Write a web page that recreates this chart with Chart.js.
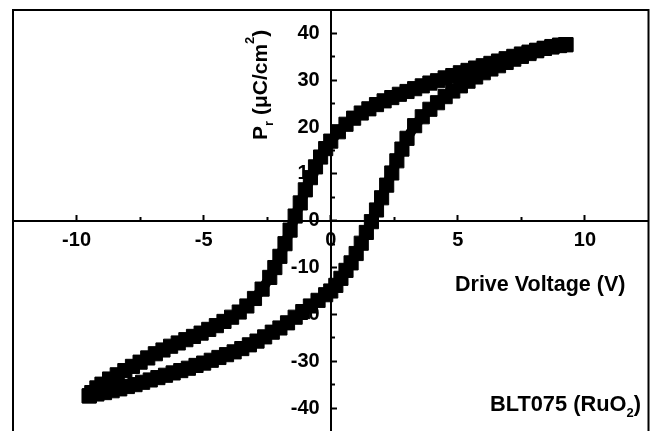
<!DOCTYPE html>
<html>
<head>
<meta charset="utf-8">
<script src="https://cdn.jsdelivr.net/npm/chart.js@4.4.1/dist/chart.umd.min.js"></script>
<style>
  html, body { margin: 0; padding: 0; background: #fff; }
</style>
</head>
<body>
<canvas id="loop" width="652" height="431"></canvas>
<script>
// P-E loop: drive voltage sweep down (+V -> -V) and back up (-V -> +V)
const descV = [9.25, 9.0, 8.7, 8.4, 8.1, 7.8, 7.5, 7.2, 6.9, 6.6, 6.3, 6.0, 5.7, 5.4, 5.1, 4.8, 4.5, 4.2, 3.9, 3.6,
  3.3, 3.0, 2.7, 2.4, 2.1, 1.8, 1.5, 1.2, 0.9, 0.6, 0.3, 0.0, -0.2, -0.4, -0.6, -0.8, -1.0, -1.2, -1.4, -1.6,
  -1.8, -2.0, -2.2, -2.4, -2.7, -3.0, -3.3, -3.6, -3.9, -4.2, -4.5, -4.8, -5.1, -5.4, -5.7, -6.0, -6.3, -6.6,
  -6.9, -7.2, -7.5, -7.8, -8.1, -8.4, -8.7, -9.0, -9.2, -9.4, -9.5];
const descP = [37.6, 37.4, 37.1, 36.8, 36.4, 36.0, 35.6, 35.1, 34.6, 34.1, 33.6, 33.1, 32.6, 32.1, 31.6, 31.0, 30.5, 29.9, 29.4, 28.8,
  28.2, 27.6, 27.0, 26.3, 25.6, 24.8, 23.9, 23.0, 21.9, 20.6, 19.0, 17.0, 15.4, 13.6, 11.5, 9.2, 6.6, 3.8, 1.0, -2.0,
  -4.9, -7.6, -10.0, -12.1, -14.6, -16.6, -18.2, -19.5, -20.6, -21.5, -22.4, -23.2, -24.0, -24.7, -25.4, -26.1, -26.8, -27.6,
  -28.4, -29.3, -30.2, -31.1, -32.0, -32.9, -33.8, -34.9, -35.7, -36.7, -37.4];

const ascV = [-9.5, -9.2, -8.9, -8.6, -8.3, -8.0, -7.7, -7.4, -7.1, -6.8, -6.5, -6.2, -5.9, -5.6, -5.3, -5.0, -4.7, -4.4,
  -4.1, -3.8, -3.5, -3.2, -2.9, -2.6, -2.3, -2.0, -1.7, -1.4, -1.1, -0.8, -0.5, -0.2, 0.0, 0.2, 0.4, 0.6, 0.8, 1.0,
  1.2, 1.4, 1.6, 1.8, 2.0, 2.2, 2.4, 2.6, 2.8, 3.0, 3.3, 3.6, 3.9, 4.2, 4.5, 4.8, 5.1, 5.4, 5.7, 6.0, 6.3, 6.6,
  6.9, 7.2, 7.5, 7.8, 8.1, 8.4, 8.7, 9.0, 9.25];
const ascP = [-37.4, -37.0, -36.7, -36.3, -35.9, -35.4, -35.0, -34.5, -34.0, -33.5, -33.0, -32.5, -32.0, -31.5, -30.9, -30.4, -29.8, -29.2,
  -28.6, -28.0, -27.3, -26.5, -25.7, -24.8, -23.8, -22.9, -21.8, -20.6, -19.4, -18.2, -17.0, -15.8, -15.0, -13.8, -12.3, -10.6, -9.0, -7.0,
  -4.8, -2.5, -0.2, 2.3, 4.9, 7.6, 10.2, 12.8, 15.3, 17.6, 20.3, 22.2, 23.8, 25.2, 26.5, 27.7, 28.8, 29.8, 30.7, 31.6, 32.4, 33.1,
  33.8, 34.5, 35.1, 35.7, 36.3, 36.8, 37.2, 37.5, 37.6];

const xMajor = [-10, -5, 0, 5, 10];
const xMinor = [-7.5, -2.5, 2.5, 7.5];
const yMajor = [-40, -30, -20, -10, 0, 10, 20, 30, 40];
const yMinor = [-35, -25, -15, -5, 5, 15, 25, 35];

const xTitle = 'Drive Voltage (V)';
const yTitle = [['P'], ['r', 'sub'], [' (\u03bcC/cm'], ['2', 'sup'], [')']];
const sampleName = [['BLT075 (RuO'], ['2', 'sub'], [')']];

const FONT = '"Liberation Sans", Arial, Helvetica, sans-serif';

// keep centre axes from taking any room in the layout
function noRoom(scale) {
  if (scale.isHorizontal()) scale.height = 0; else scale.width = 0;
  scale.paddingTop = scale.paddingBottom = scale.paddingLeft = scale.paddingRight = 0;
}
function setTicks(list) {
  return scale => { scale.ticks = list.map(v => ({ value: v })); };
}

// text with sub/superscripts, drawn left to right from (x, y) baseline
function drawRuns(ctx, x, y, runs, size) {
  runs.forEach(([t, kind]) => {
    let dy = 0;
    if (kind === 'sub') { ctx.font = 'bold 13px ' + FONT; dy = 6; }
    else if (kind === 'sup') { ctx.font = 'bold 13px ' + FONT; dy = -13; }
    else ctx.font = 'bold ' + size + 'px ' + FONT;
    ctx.fillText(t, x, y + dy);
    x += ctx.measureText(t).width;
  });
}

const annotations = {
  id: 'annotations',
  afterDraw(chart) {
    const { ctx, chartArea: a } = chart;
    ctx.save();
    // frame on three sides
    ctx.strokeStyle = '#000';
    ctx.lineWidth = 2;
    ctx.beginPath();
    ctx.moveTo(a.left, chart.height);
    ctx.lineTo(a.left, a.top);
    ctx.lineTo(a.right, a.top);
    ctx.lineTo(a.right, chart.height);
    ctx.stroke();

    ctx.fillStyle = '#000';
    ctx.textBaseline = 'alphabetic';
    ctx.textAlign = 'left';
    ctx.font = 'bold 21.5px ' + FONT;
    ctx.fillText(xTitle, 455, 291);
    drawRuns(ctx, 490, 411, sampleName, 21.8);

    ctx.translate(267, 140);
    ctx.rotate(-Math.PI / 2);
    drawRuns(ctx, 0, 0, yTitle, 21);
    ctx.restore();
  }
};

const tickFont = { family: FONT, size: 20, weight: 'bold' };

const series = (vs, ps) => ({
  data: vs.map((v, i) => ({ x: v, y: ps[i] })),
  showLine: true,
  borderColor: '#000',
  borderWidth: 10,
  pointStyle: 'rect',
  pointRadius: 10,
  pointBackgroundColor: '#000',
  pointBorderColor: '#000',
  pointBorderWidth: 1,
  tension: 0
});

new Chart(document.getElementById('loop').getContext('2d'), {
  type: 'scatter',
  data: { datasets: [series(descV, descP), series(ascV, ascP)] },
  options: {
    responsive: false,
    animation: false,
    events: [],
    layout: { autoPadding: false, padding: { left: 13, top: 10, right: 3.5, bottom: 0 } },
    plugins: { legend: { display: false }, tooltip: { enabled: false } },
    scales: {
      x: {
        type: 'linear', axis: 'x', min: -12.5, max: 12.5, position: { y: 0 },
        afterBuildTicks: setTicks(xMajor), afterFit: noRoom,
        grid: { drawOnChartArea: false, drawTicks: true, tickLength: -7, tickWidth: 2, tickColor: '#000' },
        border: { display: true, color: '#000', width: 2 },
        ticks: { font: tickFont, color: '#000', padding: 15, maxRotation: 0, autoSkip: false }
      },
      xMinor: {
        type: 'linear', axis: 'x', min: -12.5, max: 12.5, position: { y: 0 },
        afterBuildTicks: setTicks(xMinor), afterFit: noRoom,
        grid: { drawOnChartArea: false, drawTicks: true, tickLength: -4, tickWidth: 2, tickColor: '#000' },
        border: { display: false },
        ticks: { display: false }
      },
      y: {
        type: 'linear', axis: 'y', min: -44.9, max: 45, position: { x: 0 },
        afterBuildTicks: setTicks(yMajor), afterFit: noRoom,
        grid: { drawOnChartArea: false, drawTicks: true, tickLength: -7, tickWidth: 2, tickColor: '#000' },
        border: { display: true, color: '#000', width: 2 },
        // labels sit right against a centred axis, so pad them with two spaces
        ticks: { font: tickFont, color: '#000', autoSkip: false, callback: v => v + '  ' }
      },
      yMinor: {
        type: 'linear', axis: 'y', min: -44.9, max: 45, position: { x: 0 },
        afterBuildTicks: setTicks(yMinor), afterFit: noRoom,
        grid: { drawOnChartArea: false, drawTicks: true, tickLength: -4, tickWidth: 2, tickColor: '#000' },
        border: { display: false },
        ticks: { display: false }
      }
    }
  },
  plugins: [annotations]
});
</script>
</body>
</html>
